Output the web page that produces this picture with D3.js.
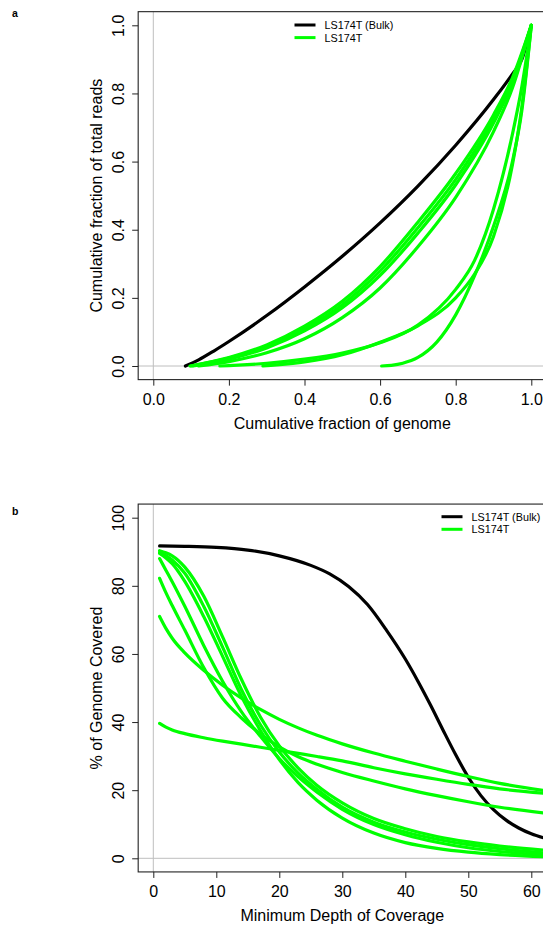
<!DOCTYPE html>
<html><head><meta charset="utf-8">
<script src="https://cdn.jsdelivr.net/npm/d3@7"></script>
<style>
body{margin:0;background:#fff}
svg{display:block}
text{font-family:"Liberation Sans",Arial,Helvetica,sans-serif;fill:#000}
</style>
</head><body>
<svg id="c" width="543" height="926"></svg>
<script>
// ---------- data ----------
const seriesNames = ["LS174T (Bulk)", "LS174T"];
const seriesColors = ["#000000", "#00ff00"];

// panel a: Lorenz curves [fraction of genome, fraction of reads]
const aTicks = [0, 0.2, 0.4, 0.6, 0.8, 1.0];
const lorenzBulk = [[0.085,0],[0.12,0.018],[0.16,0.044],[0.2,0.072],[0.3,0.148],[0.4,0.232],[0.5,0.322],[0.6,0.42],[0.7,0.528],[0.8,0.648],[0.9,0.782],[0.95,0.857],[0.975,0.9],[1,1]];
const lorenzCell1 = [[0.097,0],[0.2,0.025],[0.3,0.062],[0.4,0.117],[0.5,0.19],[0.6,0.292],[0.7,0.422],[0.8,0.565],[0.9,0.737],[0.95,0.846],[1,1]];
const lorenzCell2 = [[0.1,0],[0.2,0.023],[0.3,0.058],[0.4,0.11],[0.5,0.18],[0.6,0.279],[0.7,0.406],[0.8,0.548],[0.9,0.724],[0.95,0.837],[1,1]];
const lorenzCell3 = [[0.105,0],[0.2,0.02],[0.3,0.053],[0.4,0.103],[0.5,0.171],[0.6,0.266],[0.7,0.39],[0.8,0.532],[0.9,0.713],[0.95,0.831],[1,1]];
const lorenzCell4 = [[0.12,0],[0.2,0.013],[0.3,0.039],[0.4,0.08],[0.5,0.142],[0.6,0.229],[0.7,0.35],[0.8,0.495],[0.9,0.688],[0.95,0.816],[1,1]];
const lorenzCell5 = [[0.176,0],[0.2,0.001],[0.3,0.008],[0.4,0.02],[0.5,0.038],[0.6,0.068],[0.7,0.12],[0.8,0.225],[0.85,0.31],[0.9,0.46],[0.95,0.68],[0.975,0.82],[1,1]];
const lorenzCell6 = [[0.29,0],[0.3,0.001],[0.4,0.012],[0.5,0.033],[0.6,0.07],[0.7,0.118],[0.8,0.2],[0.85,0.27],[0.9,0.38],[0.95,0.59],[0.975,0.76],[1,1]];
const lorenzCell7 = [[0.604,0],[0.63,0.002],[0.66,0.008],[0.7,0.025],[0.75,0.07],[0.8,0.15],[0.85,0.265],[0.9,0.41],[0.95,0.6],[0.975,0.75],[1,1]];

// panel b: % genome covered vs minimum depth
const bXTicks = [0, 10, 20, 30, 40, 50, 60];
const bYTicks = [0, 20, 40, 60, 80, 100];
const depthBulk = [[1,91.7],[5,91.6],[10,91.3],[15,90.5],[20,88.8],[25,86],[28,83.5],[31,79.8],[34,74.5],[37,67],[40,58.5],[42,52],[44,45],[46,37.6],[48,30.4],[50,23.8],[52,18.4],[54,14.3],[56,11.2],[58,8.9],[60,7.2],[62,6.0],[63,5.5]];
const depthGrid = [1,2,3,5,8,11,14,17,20,23,26,30,35,40,45,50,55,62];
const depthCell1 = [90.3,89.7,88.8,85.5,77,65,52.5,41.5,33,26.5,21.4,16.3,11.7,8.7,6.4,4.8,3.6,2.4];
const depthCell2 = [89.8,88.9,87.6,83.7,74,62,49.5,39.2,31.2,25,20.2,15,10.6,7.7,5.6,4,2.8,1.6];
const depthCell3 = [88,84.6,81.2,74,62.5,52,43,35.8,29.3,23.9,19.4,14.4,9.9,6.9,4.7,3.1,2,1.0];
const depthCell4 = [89.5,88.2,86.5,81.3,71,59.3,47.5,37.5,29,22.2,17,11.8,7.4,4.6,2.9,1.8,1.1,0.5];
const depthCell5 = [82.2,78,74.2,67,56,47,41.2,36.5,32.7,29.8,27.6,25.2,22.7,20.4,18.4,16.6,15,13.3];
const depthCell6 = [71,67.5,64.6,60.3,55.2,50.8,47,43.7,40.8,38.3,36.1,33.6,30.9,28.5,26.2,24,22,19.9];
const depthCell7 = [39.6,38.5,37.7,36.6,35.4,34.4,33.5,32.6,31.7,30.8,29.9,28.6,26.6,24.8,23.2,21.7,20.4,19.1];

// ---------- drawing ----------
const svg = d3.select("#c");
const FONT = 16;

function panel(opt) {
  const x = d3.scaleLinear().domain(opt.xd).range([153.3, 531.3]);
  const y = d3.scaleLinear().domain(opt.yd).range([opt.y0, opt.y1]);
  const ext = v => [v[0] - (v[1]-v[0])*0.04, v[1] + (v[1]-v[0])*0.04];
  const xe = ext(opt.xd), ye = ext(opt.yd);
  const L = x(xe[0]), R = x(xe[1]), T = y(ye[1]), B = y(ye[0]);
  const g = svg.append("g");
  const cid = "clip" + opt.id;
  g.append("clipPath").attr("id", cid).append("rect")
    .attr("x", L).attr("y", T).attr("width", R-L).attr("height", B-T);

  // reference lines
  g.append("line").attr("x1", x(0)).attr("x2", x(0)).attr("y1", T).attr("y2", B)
    .attr("stroke", "#bebebe").attr("stroke-width", 1);
  g.append("line").attr("x1", L).attr("x2", R).attr("y1", y(0)).attr("y2", y(0))
    .attr("stroke", "#bebebe").attr("stroke-width", 1);

  // curves
  const line = d3.line().x(d => x(d[0])).y(d => y(d[1])).curve(d3.curveMonotoneX);
  const cg = g.append("g").attr("clip-path", `url(#${cid})`);
  cg.append("path").datum(opt.bulk).attr("d", line).attr("fill", "none")
    .attr("stroke", seriesColors[0]).attr("stroke-width", 3.2).attr("stroke-linecap", "round");
  opt.cells.forEach(c => {
    cg.append("path").datum(c).attr("d", line).attr("fill", "none")
      .attr("stroke", seriesColors[1]).attr("stroke-width", 3.2).attr("stroke-linecap", "round");
  });

  // box
  g.append("rect").attr("x", L).attr("y", T).attr("width", R-L).attr("height", B-T)
    .attr("fill", "none").attr("stroke", "#222").attr("stroke-width", 1.1);

  // axes
  const xa = g.append("g").attr("transform", `translate(0,${B})`)
    .call(d3.axisBottom(x).tickValues(opt.xt).tickFormat(opt.xf).tickSize(6).tickSizeOuter(0).tickPadding(8));
  xa.select(".domain").remove();
  xa.selectAll("line").attr("stroke", "#222");
  xa.selectAll("text").attr("font-size", FONT).attr("fill", "#111")
    .style("font-family", '"Liberation Sans",Arial,sans-serif');

  const ya = g.append("g").attr("transform", `translate(${L},0)`)
    .call(d3.axisLeft(y).tickValues(opt.yt).tickFormat(opt.yf).tickSize(6).tickSizeOuter(0));
  ya.select(".domain").remove();
  ya.selectAll("line").attr("stroke", "#222");
  ya.selectAll("text").attr("font-size", FONT).attr("fill", "#111")
    .style("font-family", '"Liberation Sans",Arial,sans-serif')
    .attr("transform", "rotate(-90)").attr("x", 0).attr("y", -(L - 124)).attr("dy", 0)
    .attr("text-anchor", "middle");

  // titles
  g.append("text").attr("x", (153.3+531.3)/2).attr("y", B + 49.5)
    .attr("text-anchor", "middle").attr("font-size", FONT).attr("fill", "#111").text(opt.xlab);
  g.append("text").attr("transform", `translate(102,${(T+B)/2}) rotate(-90)`)
    .attr("text-anchor", "middle").attr("font-size", FONT).attr("fill", "#111").text(opt.ylab);

  // panel letter
  g.append("text").attr("x", 12).attr("y", opt.letterY).attr("font-size", 10.5)
    .attr("font-weight", "bold").text(opt.letter);

  // legend
  seriesNames.forEach((n, i) => {
    const ly = opt.legY + i * 12.6;
    g.append("line").attr("x1", opt.legX).attr("x2", opt.legX + 21).attr("y1", ly).attr("y2", ly)
      .attr("stroke", seriesColors[i]).attr("stroke-width", 3);
    g.append("text").attr("x", opt.legX + 30).attr("y", ly + 4).attr("font-size", 10.8)
      .attr("fill", "#111").text(n);
  });
}

panel({
  id: "a", xd: [0, 1], yd: [0, 1], y0: 366, y1: 25.3,
  xt: aTicks, yt: aTicks, xf: d3.format(".1f"), yf: d3.format(".1f"),
  bulk: lorenzBulk,
  cells: [lorenzCell1, lorenzCell2, lorenzCell3, lorenzCell4, lorenzCell5, lorenzCell6, lorenzCell7],
  xlab: "Cumulative fraction of genome", ylab: "Cumulative fraction of total reads",
  letter: "a", letterY: 17, legX: 294.5, legY: 25
});

const toPairs = ys => ys.map((v, i) => [depthGrid[i], v]);
panel({
  id: "b", xd: [0, 60], yd: [0, 100], y0: 858.3, y1: 517.7,
  xt: bXTicks, yt: bYTicks, xf: d3.format("d"), yf: d3.format("d"),
  bulk: depthBulk,
  cells: [depthCell1, depthCell2, depthCell3, depthCell4, depthCell5, depthCell6, depthCell7].map(toPairs),
  xlab: "Minimum Depth of Coverage", ylab: "% of Genome Covered",
  letter: "b", letterY: 515, legX: 441.5, legY: 516.7
});
</script>
</body></html>
